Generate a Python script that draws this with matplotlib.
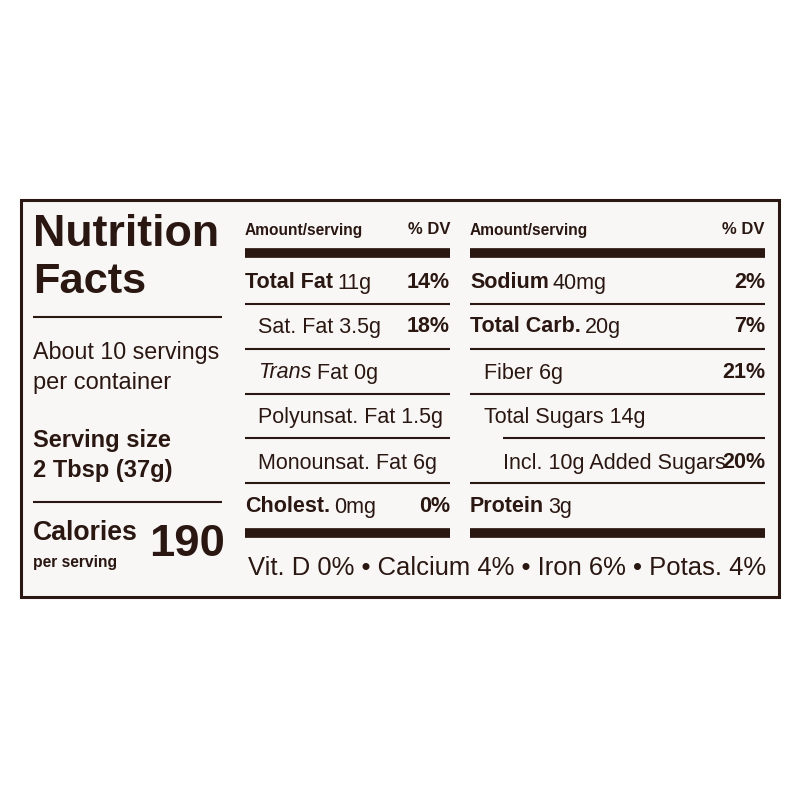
import matplotlib
matplotlib.use("Agg")
import matplotlib.pyplot as plt

INK = "#2a1712"
BG = "#f8f7f5"
FONT = ["Liberation Sans", "DejaVu Sans"]

title = ["Nutrition", "Facts"]
servings = ["About 10 servings", "per container"]
serving_size = ["Serving size", "2 Tbsp (37g)"]
calories = "190"

# (bold part, regular part, %DV, indent)
left_rows = [("Total Fat", "11g", "14%", 0),
             ("", "Sat. Fat 3.5g", "18%", 1),
             ("", "*Trans* Fat 0g", "", 1),
             ("", "Polyunsat. Fat 1.5g", "", 1),
             ("", "Monounsat. Fat 6g", "", 1),
             ("Cholest.", "0mg", "0%", 0)]
right_rows = [("Sodium", "40mg", "2%", 0),
              ("Total Carb.", "20g", "7%", 0),
              ("", "Fiber 6g", "21%", 1),
              ("", "Total Sugars 14g", "", 1),
              ("", "Incl. 10g Added Sugars", "20%", 2),
              ("Protein", "3g", "", 0)]
footer = "Vit. D 0% \u2022 Calcium 4% \u2022 Iron 6% \u2022 Potas. 4%"

fig = plt.figure(figsize=(8, 8), dpi=100)
fig.patch.set_facecolor("white")
ax = fig.add_axes([0, 0, 1, 1])
ax.set_xlim(0, 800); ax.set_ylim(800, 0); ax.axis("off")
fig.canvas.draw()
R = fig.canvas.get_renderer()

ax.add_patch(plt.Rectangle((21, 200), 758, 397, facecolor=BG, edgecolor=INK, lw=2.2))

def width_px(t):
    return t.get_window_extent(R).width

def txt(x, y, s, size, weight="normal", ha="left", style="normal", fit=None):
    t = ax.text(x, y, s, fontsize=size, fontweight=weight, ha=ha, va="center",
                color=INK, family=FONT, fontstyle=style)
    if fit is not None:
        w = width_px(t)
        if w > fit:
            t.set_fontsize(size * fit / w)
    return t

def after(t):
    return t.get_window_extent(R).x1

def hline(x0, x1, y, lw):
    ax.plot([x0, x1], [y, y], color=INK, lw=lw, solid_capstyle="butt")

# left column
txt(33, 234, title[0], 40, "bold", fit=186)
txt(33, 282, title[1], 40, "bold", fit=113)
hline(33, 222, 317, 1.5)
txt(33, 352, servings[0], 17, fit=187)
txt(33, 383, servings[1], 17, fit=152)
txt(33, 440, serving_size[0], 17, "bold", fit=138)
txt(33, 470, serving_size[1], 17, "bold", fit=140)
hline(33, 222, 502, 1.5)
txt(33, 533, "Calories", 22, "bold", fit=105)
txt(33, 563, "per serving", 12, "bold", fit=84)
txt(225, 545, calories, 54, "bold", ha="right", fit=76)

row_y = [283, 327, 373, 418, 463, 507]
line_y = [304, 349, 394, 438, 483]

def column(x0, x1, rows, indents):
    txt(x0, 230, "Amount/serving", 12, "bold", fit=118)
    txt(x1, 230, "% DV", 12, "bold", ha="right")
    hline(x0, x1, 253, 7)
    for i, (b, r, dv, ind) in enumerate(rows):
        y = row_y[i]
        x = x0 + indents[ind]
        if b:
            t = txt(x, y, b, 15.5, "bold")
            x = after(t) + 4
        if r.startswith("*"):
            it, rest = r[1:].split("*", 1)
            t = txt(x, y, it, 15.5, style="italic")
            x = after(t)
            txt(x, y, rest, 15.5)
        else:
            txt(x, y, r, 15.5)
        if dv:
            txt(x1, y, dv, 15.5, "bold", ha="right")
    for i, ly in enumerate(line_y):
        ind = rows[i + 1][3]
        start = x0 + (indents[ind] if ind == 2 else 0)
        hline(start, x1, ly, 1.5)
    hline(x0, x1, 533, 7)

column(245, 450, left_rows, [0, 13, 13])
column(470, 765, right_rows, [0, 14, 33])

txt(248, 568, footer, 19, fit=517)

fig.savefig("out.png", dpi=100, facecolor="white")
